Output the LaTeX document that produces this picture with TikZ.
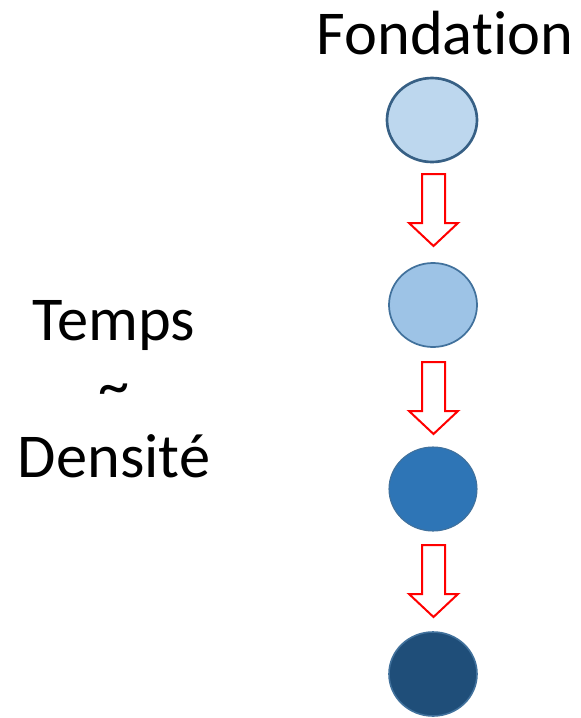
\documentclass[tikz,border=0pt]{standalone}
\usepackage{fontspec}
\setmainfont{Carlito}[Ligatures={NoCommon}]
\usetikzlibrary{shapes.geometric}
\definecolor{fillA}{HTML}{BDD7EE}
\definecolor{fillB}{HTML}{9DC3E6}
\definecolor{fillC}{HTML}{2E75B6}
\definecolor{fillD}{HTML}{1F4E79}
\definecolor{rimblue}{HTML}{41719C}
\tikzset{
  stage/.style={ellipse, draw=rimblue, line width=1.5pt, inner sep=0pt,
    minimum width=66pt, minimum height=63pt},
  blockarrow/.style={draw=red, fill=white, line width=1.5pt, line join=miter},
  label/.style={font=\fontsize{46.8}{51}\selectfont, inner sep=0pt, anchor=base}
}
% down arrow whose top edge sits at #1 (px), centred on x=433.5
\newcommand{\downarrowat}[1]{%
  \draw[blockarrow] (422,#1) -- (445,#1) -- (445,#1+49) -- (458,#1+49)
    -- (433.5,#1+72) -- (409,#1+49) -- (422,#1+49) -- cycle;}
\begin{document}
\begin{tikzpicture}[x=0.75pt,y=-0.75pt]
\useasboundingbox (0,0) rectangle (581,718);

\node[label] (fond) at (445,54) {Fondat\kern0pt ion};

\node[stage, fill=fillA, line width=2pt, draw=rimblue!85!black, minimum width=67.5pt] (s1) at (432,120) {};
\node[stage, fill=fillB, line width=1.3pt] (s2) at (433,305) {};
\node[stage, fill=fillC, line width=0.8pt] (s3) at (433,489) {};
\node[stage, fill=fillD, line width=1.2pt, draw=rimblue] (s4) at (433,674) {};

\downarrowat{174}
\downarrowat{362}
\downarrowat{545}

\node[label] (temps) at (114,340) {Temps};
\node[label] (tilde) at (114,406) {\char"007E};
\node[label] (dens) at (114,477) {Densité};
\end{tikzpicture}
\end{document}
